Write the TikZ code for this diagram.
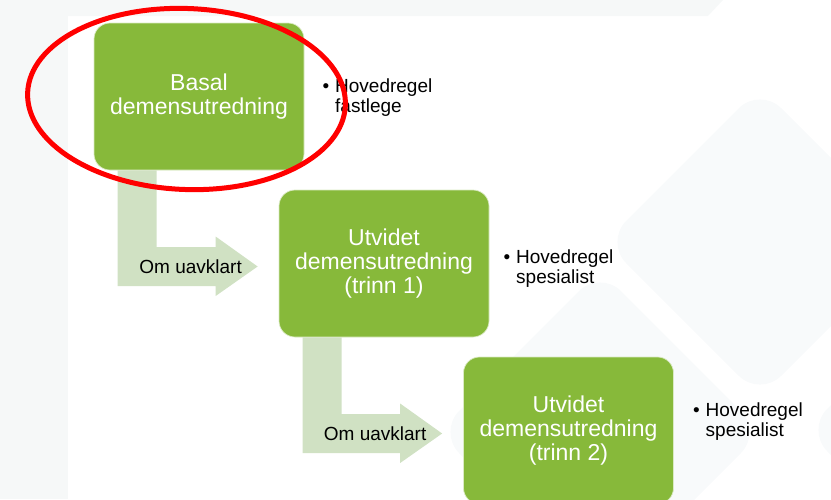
\documentclass[tikz,border=0pt]{standalone}
\usepackage{fontspec}
\setmainfont{Liberation Sans}
\usetikzlibrary{calc}
\definecolor{boksgroenn}{HTML}{87B93A}
\definecolor{pilgroenn}{HTML}{D0E1C3}
\definecolor{bakgrunn}{HTML}{F6F8F8}
\definecolor{ruter}{HTML}{F8FAFB}
\tikzset{
    boks/.style={rectangle, rounded corners=16pt, fill=boksgroenn, draw=white!70!boksgroenn, line width=0.7pt,
        text=white, minimum width=210pt, minimum height=147pt, align=center, font=\fontsize{23}{24}\selectfont},
    pil/.style={fill=pilgroenn},
    piltekst/.style={font=\fontsize{19}{20}\selectfont, inner sep=0pt},
    merknad/.style={anchor=west, font=\fontsize{19}{20}\selectfont, inner sep=0pt},
    markering/.style={draw=red, line width=5pt}
}

\begin{document}
\begin{tikzpicture}[x=1pt, y=-1pt]
            \useasboundingbox (0,0) rectangle (831,499);

            % bakgrunn
            \fill[bakgrunn] (0,0) rectangle (68,499);
            \fill[bakgrunn] (68,0) -- (723,0) -- (708,16) -- (68,16) -- cycle;
            \foreach \cx/\cy/\r in {760/242/155, 600/432/162, 961/430/155} {
                    \fill[ruter, rounded corners=30pt] (\cx-\r,\cy) -- (\cx,\cy-\r) -- (\cx+\r,\cy) -- (\cx,\cy+\r) -- cycle;
                }

            \node[boks] (basal) at (199,96.5) {Basal\\demensutredning};
            \node[boks] (trinn1) at (384,263.5) {Utvidet\\demensutredning\\(trinn 1)};
            \node[boks] (trinn2) at (568.5,430.5) {Utvidet\\demensutredning\\(trinn 2)};

            \foreach \fra/\til/\navn in {basal/trinn1/p1, trinn1/trinn2/p2} {
                    \coordinate (\navn-a) at ($(\fra.south west)+(24,0)$);
                    \coordinate (\navn-b) at ($(\fra.south west)+(63,0)$);
                    \coordinate (\navn-s) at ($(\til.west)+(-21,3)$);
                    \fill[pil] (\navn-a) |- ($(\navn-s)+(-42,19.5)$) -- ++(0,10) -- (\navn-s)
                        -- ++(-42,-30) -- ++(0,10.5) -| (\navn-b) -- cycle;
                    \node[piltekst] (\navn-tekst) at ($(\navn-s)+(-67,0)$) {Om uavklart};
                }

            \foreach \boks/\hvem/\dx/\dy in {basal/fastlege/18/1.5, trinn1/spesialist/14/6, trinn2/spesialist/19/-8} {
                    \node[merknad] (\boks-merknad) at ($(\boks.east)+(\dx,\dy)$)
                        {\begin{tabular}{@{}l@{\hspace{6pt}}l@{}}\textbullet & Hovedregel\\ & \hvem\end{tabular}};
                }

            \draw[markering, rotate around={-2.3:(186.5,99)}] (186.5,99) ellipse (159 and 90.5);
        \end{tikzpicture}
\end{document}
